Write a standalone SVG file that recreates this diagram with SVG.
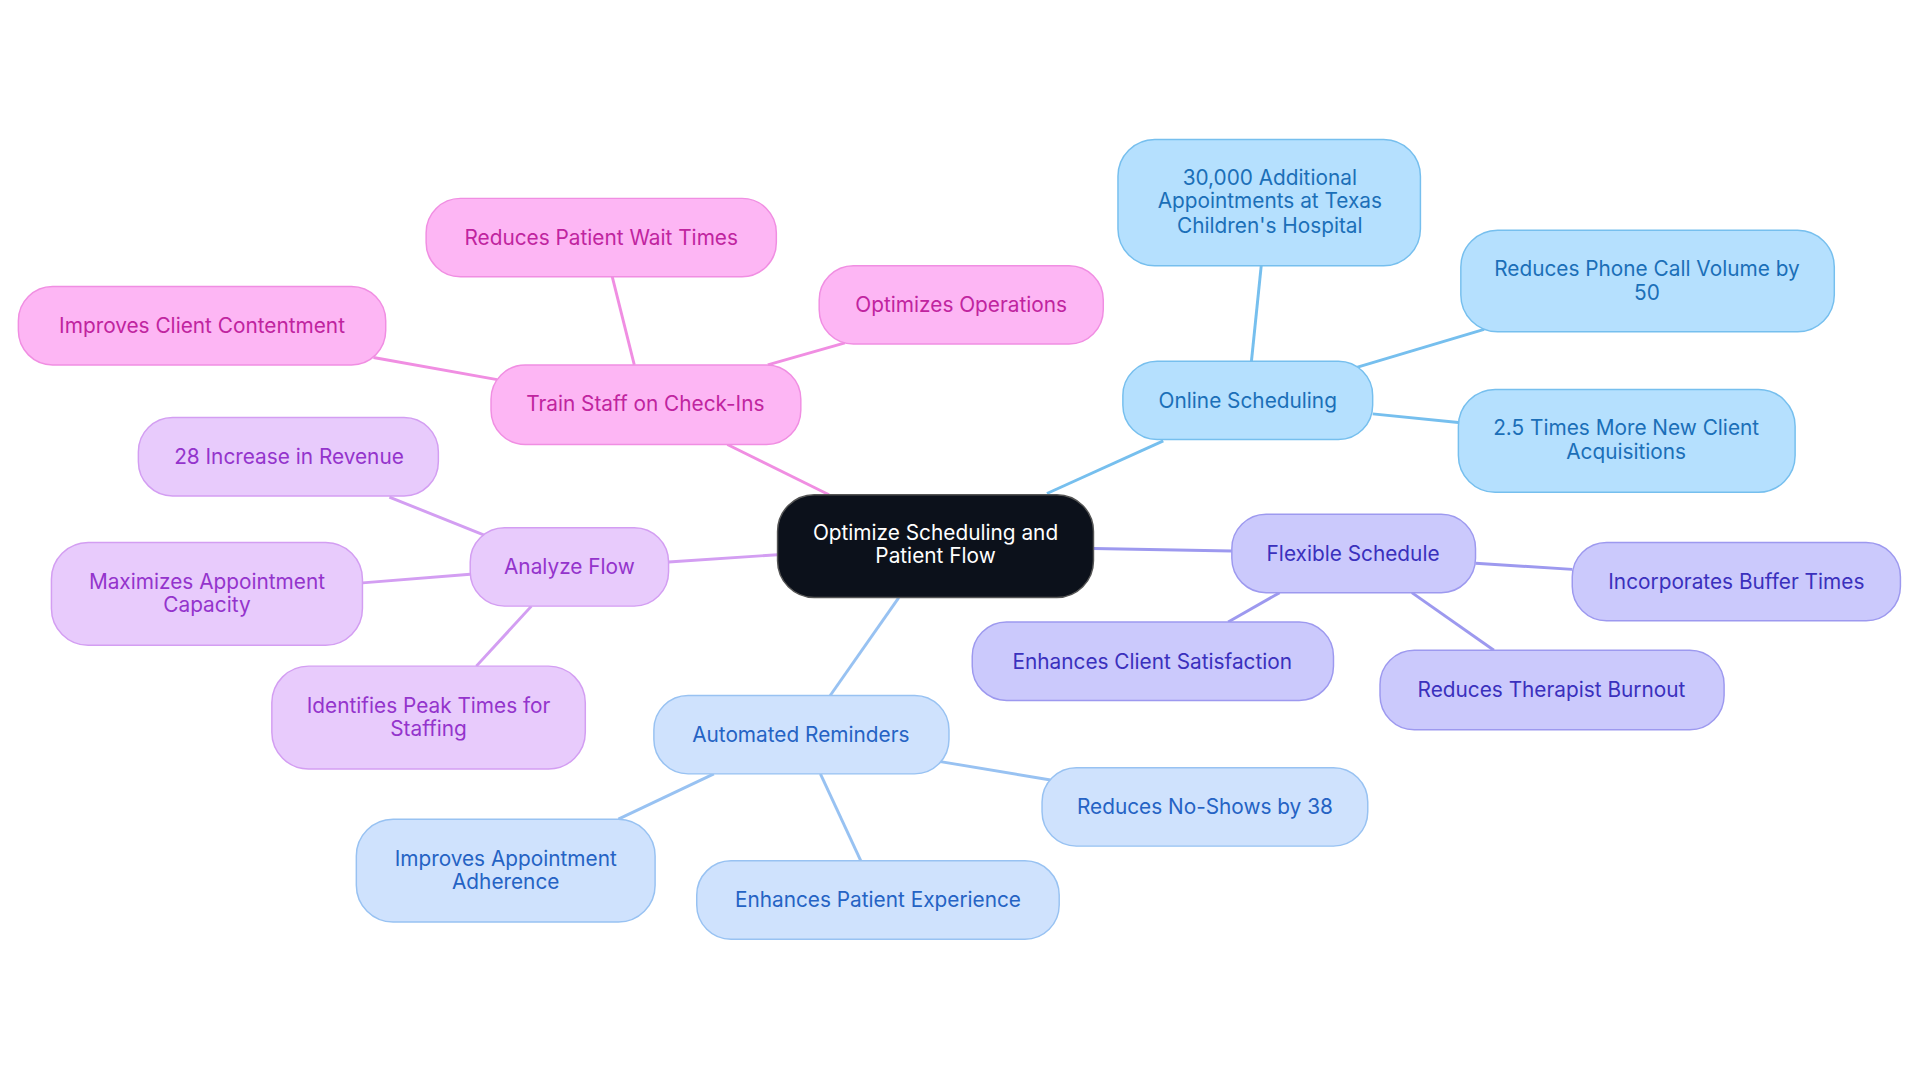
<svg xmlns="http://www.w3.org/2000/svg" width="1920" height="1083" viewBox="0 0 1920 1083">
<style>
text{font-family:Inter,"Noto Sans","Liberation Sans",sans-serif;font-size:17px;text-anchor:middle}
rect{stroke-width:1.2}
.pk rect{fill:#fdb6f4;stroke:#f08ee2}.pk text{fill:#c0249f}
.bl rect{fill:#b5e0fe;stroke:#76bfee}.bl text{fill:#1b6fb8}
.pu rect{fill:#e8cbfc;stroke:#d39ef2}.pu text{fill:#9434cc}
.in rect{fill:#cbc9fc;stroke:#9d99ef}.in text{fill:#3a30bd}
.lb rect{fill:#cfe2fd;stroke:#98c2f2}.lb text{fill:#2563c4}
#edges line{stroke-width:2.4}
</style>
<rect width="1920" height="1083" fill="#fff"/>
<g transform="scale(1.2245)">
<g id="edges">
<line x1="855" y1="403" x2="950" y2="360" stroke="#76bfee"/>
<line x1="1022" y1="295" x2="1030" y2="217" stroke="#76bfee"/>
<line x1="1108" y1="300" x2="1212" y2="269" stroke="#76bfee"/>
<line x1="1121" y1="338" x2="1191" y2="345" stroke="#76bfee"/>
<line x1="893" y1="448" x2="1006" y2="450" stroke="#9d99ef"/>
<line x1="1205" y1="460" x2="1284" y2="465" stroke="#9d99ef"/>
<line x1="1153" y1="484" x2="1220" y2="531" stroke="#9d99ef"/>
<line x1="1045" y1="484" x2="1003" y2="508" stroke="#9d99ef"/>
<line x1="734" y1="488" x2="678" y2="568" stroke="#98c2f2"/>
<line x1="768" y1="622" x2="858" y2="637" stroke="#98c2f2"/>
<line x1="670" y1="632" x2="703" y2="703" stroke="#98c2f2"/>
<line x1="583" y1="632" x2="505" y2="669" stroke="#98c2f2"/>
<line x1="635" y1="453" x2="546" y2="459" stroke="#d39ef2"/>
<line x1="398" y1="438" x2="318" y2="406" stroke="#d39ef2"/>
<line x1="384" y1="469" x2="296" y2="476" stroke="#d39ef2"/>
<line x1="434" y1="495" x2="389" y2="544" stroke="#d39ef2"/>
<line x1="677" y1="404" x2="594" y2="363" stroke="#f08ee2"/>
<line x1="518" y1="298" x2="500" y2="226" stroke="#f08ee2"/>
<line x1="627" y1="298" x2="690" y2="280" stroke="#f08ee2"/>
<line x1="406" y1="310" x2="305" y2="292" stroke="#f08ee2"/>
</g>
<g id="center"><rect x="635" y="404" width="258" height="84" rx="30" fill="#0c111b" stroke="#555"/><text x="764" y="441" fill="#fff">Optimize Scheduling and</text><text x="764" y="460" fill="#fff">Patient Flow</text></g>
<g id="online" class="bl"><rect x="917" y="295" width="204" height="64" rx="28"/><text x="1019" y="333">Online Scheduling</text></g>
<g id="texas" class="bl"><rect x="913" y="114" width="247" height="103" rx="30"/><text x="1037" y="151">30,000 Additional</text><text x="1037" y="170">Appointments at Texas</text><text x="1037" y="190">Children's Hospital</text></g>
<g id="phone" class="bl"><rect x="1193" y="188" width="305" height="83" rx="30"/><text x="1345" y="225">Reduces Phone Call Volume by</text><text x="1345" y="245">50</text></g>
<g id="acq" class="bl"><rect x="1191" y="318" width="275" height="84" rx="30"/><text x="1328" y="355">2.5 Times More New Client</text><text x="1328" y="375">Acquisitions</text></g>
<g id="flex" class="in"><rect x="1006" y="420" width="199" height="64" rx="28"/><text x="1105" y="458">Flexible Schedule</text></g>
<g id="buffer" class="in"><rect x="1284" y="443" width="268" height="64" rx="28"/><text x="1418" y="481">Incorporates Buffer Times</text></g>
<g id="burnout" class="in"><rect x="1127" y="531" width="281" height="65" rx="28"/><text x="1267" y="569">Reduces Therapist Burnout</text></g>
<g id="satis" class="in"><rect x="794" y="508" width="295" height="64" rx="28"/><text x="941" y="546">Enhances Client Satisfaction</text></g>
<g id="auto" class="lb"><rect x="534" y="568" width="241" height="64" rx="28"/><text x="654" y="606">Automated Reminders</text></g>
<g id="noshow" class="lb"><rect x="851" y="627" width="266" height="64" rx="28"/><text x="984" y="665">Reduces No-Shows by 38</text></g>
<g id="exp" class="lb"><rect x="569" y="703" width="296" height="64" rx="28"/><text x="717" y="741">Enhances Patient Experience</text></g>
<g id="adh" class="lb"><rect x="291" y="669" width="244" height="84" rx="30"/><text x="413" y="707">Improves Appointment</text><text x="413" y="726">Adherence</text></g>
<g id="analyze" class="pu"><rect x="384" y="431" width="162" height="64" rx="28"/><text x="465" y="469">Analyze Flow</text></g>
<g id="rev" class="pu"><rect x="113" y="341" width="245" height="64" rx="28"/><text x="236" y="379">28 Increase in Revenue</text></g>
<g id="cap" class="pu"><rect x="42" y="443" width="254" height="84" rx="30"/><text x="169" y="481">Maximizes Appointment</text><text x="169" y="500">Capacity</text></g>
<g id="peak" class="pu"><rect x="222" y="544" width="256" height="84" rx="30"/><text x="350" y="582">Identifies Peak Times for</text><text x="350" y="601">Staffing</text></g>
<g id="train" class="pk"><rect x="401" y="298" width="253" height="65" rx="28"/><text x="527" y="336">Train Staff on Check-Ins</text></g>
<g id="wait" class="pk"><rect x="348" y="162" width="286" height="64" rx="28"/><text x="491" y="200">Reduces Patient Wait Times</text></g>
<g id="ops" class="pk"><rect x="669" y="217" width="232" height="64" rx="28"/><text x="785" y="255">Optimizes Operations</text></g>
<g id="content" class="pk"><rect x="15" y="234" width="300" height="64" rx="28"/><text x="165" y="272">Improves Client Contentment</text></g>
</g>
</svg>
